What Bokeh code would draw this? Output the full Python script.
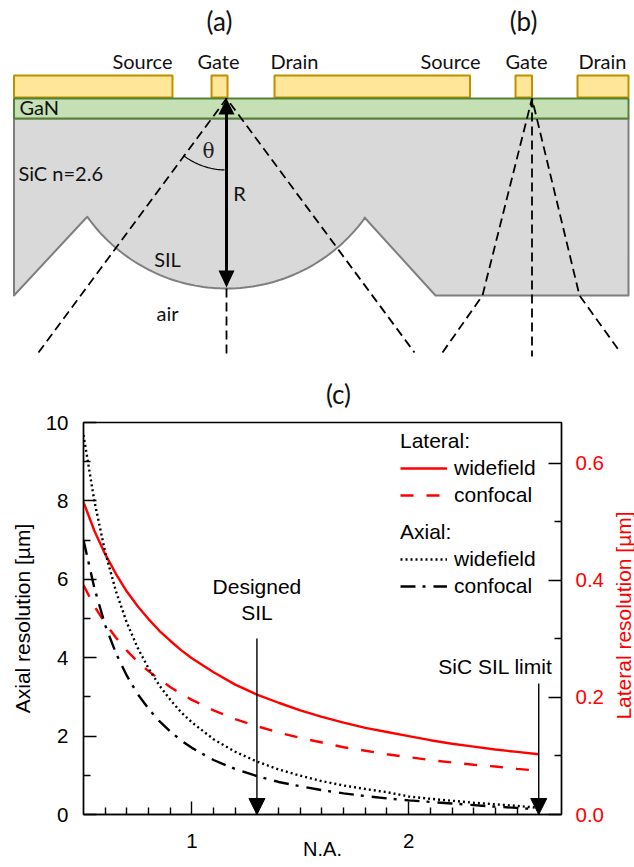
import numpy as np
from bokeh.plotting import figure
from bokeh.layouts import column, row
from bokeh.models import (Range1d, LinearAxis, FixedTicker, PrintfTickFormatter, Legend, LegendItem,
                          Arrow, NormalHead, Label, ColumnDataSource)
from bokeh.core.properties import value
from bokeh.embed import file_html
from bokeh.resources import INLINE

# ---------- chart data ----------
na = [0.5, 0.55, 0.6, 0.65, 0.7, 0.75, 0.8, 0.85, 0.9, 0.95, 1.0, 1.1, 1.2, 1.3, 1.4, 1.5, 1.6, 1.7,
      1.8, 1.9, 2.0, 2.1, 2.2, 2.3, 2.4, 2.5, 2.6]
lateral_widefield = [.534, .485, .445, .411, .381, .356, .334, .314, .297, .281, .267, .243, .222, .205,
                     .191, .178, .167, .157, .148, .141, .134, .127, .121, .116, .111, .107, .103]
lateral_confocal = [.392, .356, .327, .302, .280, .261, .245, .231, .218, .206, .196, .178, .163, .151,
                    .140, .131, .123, .115, .109, .103, .098, .093, .089, .085, .082, .078, .075]
axial_widefield = [9.68, 8.0, 6.69, 5.69, 4.89, 4.25, 3.73, 3.29, 2.93, 2.61, 2.35, 1.92, 1.60, 1.35,
                   1.15, .99, .85, .74, .65, .57, .46, .40, .35, .30, .26, .22, .17]
axial_confocal = [7.0, 5.78, 4.83, 4.11, 3.54, 3.07, 2.70, 2.38, 2.12, 1.89, 1.70, 1.39, 1.16, .98,
                  .83, .72, .62, .54, .47, .41, .36, .32, .28, .24, .20, .17, .13]
x_major = [1, 2]
x_minor = [.6, .7, .8, .9, 1.1, 1.2, 1.3, 1.4, 1.5, 1.6, 1.7, 1.8, 1.9, 2.1, 2.2, 2.3, 2.4, 2.5, 2.6]
y_major = [0, 2, 4, 6, 8, 10]
y_minor = [1, 3, 5, 7, 9]
r_major = [0.0, 0.2, 0.4, 0.6]
r_minor = [0.1, 0.3, 0.5]
marker_na = [1.3, 2.6]
marker_top = [4.49, 3.34]

# ---------- schematic geometry (page pixels) ----------
gold_left = [13.5, 211, 274, 515, 577]
gold_right = [172, 227, 469.5, 531.5, 628]
sic_left_x = [13.5, 13.5, 86]
sic_left_y = [118, 295, 217]
sic_right_x = [364, 435, 628, 628]
sic_right_y = [217, 295, 295, 118]
lens_cx, lens_cy, lens_r = 226, 117, 171
dash_lines = [([38, 226, 414], [352, 98, 352]),
              ([226, 226], [288, 356]),
              ([442, 482, 531.5, 579, 620], [352, 295, 98, 295, 352]),
              ([531.5, 531.5], [98, 356])]
labels_txt = ["Source", "Gate", "Drain", "Source", "Gate", "Drain", "SIL", "air", "R"]
labels_x = [142, 218, 294, 450, 526, 602, 167, 167, 239]
labels_y = [60.5, 60.5, 60.5, 60.5, 60.5, 60.5, 258.5, 312.5, 192.5]

W = 634
TOP_H = 410
CHART_H = 457
SIDE_W = 28
FONT = "Lato"
SANS = "Liberation Sans"

# ---------- schematic ----------
s = figure(width=W, height=TOP_H, x_range=Range1d(0, 634), y_range=Range1d(TOP_H, 0),
           output_backend="svg", toolbar_location=None, min_border=0, outline_line_color=None)
s.axis.visible = False
s.grid.visible = False
s.background_fill_color = None
s.border_fill_color = None

t0 = np.arctan2(sic_left_y[2] - lens_cy, sic_left_x[2] - lens_cx)
t1 = np.arctan2(sic_right_y[0] - lens_cy, sic_right_x[0] - lens_cx)
tt = np.linspace(t0, t1, 80)
arc_x = lens_cx + lens_r * np.cos(tt)
arc_y = lens_cy + lens_r * np.sin(tt)
s.patch(sic_left_x + list(arc_x) + sic_right_x, sic_left_y + list(arc_y) + sic_right_y,
        fill_color="#D9D9D9", line_color="#7F7F7F", line_width=2, line_join="round")
s.quad(left=gold_left, right=gold_right, top=[75] * 5, bottom=[97] * 5,
       fill_color="#FFE699", line_color="#BF9000", line_width=2)
s.quad(left=[13.5], right=[628], top=[98], bottom=[118],
       fill_color="#C5E0B4", line_color="#548235", line_width=2)
for xs, ys in dash_lines:
    s.line(xs, ys, line_color="black", line_width=1.8, line_dash="9 5")
# R arrow
s.line([226, 226], [108, 276], line_color="black", line_width=3)
s.patch([226, 218, 234], [98, 114, 114], fill_color="black", line_color=None)
s.patch([226, 218, 234], [287, 270, 270], fill_color="black", line_color=None)
s.patch([531.5, 529.5, 533.5], [98, 106, 106], fill_color="black", line_color=None)
# theta arc
ang = np.linspace(np.arctan2(57, -43), np.arctan2(72, -2), 30)
s.line(226 + 71.5 * np.cos(ang), 98 + 71.5 * np.sin(ang), line_color="black", line_width=1.2)

txt = ColumnDataSource(dict(x=labels_x, y=labels_y, t=labels_txt))
s.text("x", "y", text="t", source=txt, text_font=value(FONT), text_font_size="20px",
       text_align="center", text_baseline="middle", text_color="#111111")
s.text([19, 18], [106.5, 172.5], text=["GaN", "SiC n=2.6"], text_font=value(FONT), text_font_size="20px",
       text_align="left", text_baseline="middle", text_color="#111111")
s.text([219, 523, 338], [20, 20, 393], text=["(a)", "(b)", "(c)"], text_font=value(FONT),
       text_font_size="26px", text_align="center", text_baseline="middle", text_color="#111111")
s.text([208], [150], text=["θ"], text_font=value("DejaVu Serif"), text_font_size="20px",
       text_align="center", text_baseline="middle", text_color="#222222")

# ---------- chart ----------
p = figure(width=W - SIDE_W, height=CHART_H, x_range=Range1d(0.5, 2.705), y_range=Range1d(0, 10),
           output_backend="svg", toolbar_location=None, min_border_left=83, min_border_right=44,
           min_border_top=12, min_border_bottom=53, outline_line_color="black", outline_line_width=1.4,
           x_axis_label="N.A.", y_axis_label="Axial resolution [µm]")
p.grid.visible = False
p.extra_y_ranges = {"lat": Range1d(0, 0.67)}
r_axis = LinearAxis(y_range_name="lat")
p.add_layout(r_axis, "right")


def style(ax, color="black"):
    ax.axis_line_color = "black"
    ax.axis_line_width = 1.4
    ax.major_tick_line_color = "black"
    ax.minor_tick_line_color = "black"
    ax.major_tick_line_width = 1.4
    ax.minor_tick_line_width = 1.4
    ax.major_tick_in = 13
    ax.major_tick_out = 0
    ax.minor_tick_in = 7
    ax.minor_tick_out = 0
    ax.major_label_text_font = SANS
    ax.major_label_text_font_size = "20.5px"
    ax.major_label_text_color = color
    ax.axis_label_text_font = SANS
    ax.axis_label_text_font_size = "21px"
    ax.axis_label_text_font_style = "normal"
    ax.axis_label_text_color = color


xa, ya = p.below[0], p.left[0]
style(xa); style(ya); style(r_axis, "#FF0000")
xa.ticker = FixedTicker(ticks=x_major, minor_ticks=x_minor)
ya.ticker = FixedTicker(ticks=y_major, minor_ticks=y_minor)
r_axis.ticker = FixedTicker(ticks=r_major, minor_ticks=r_minor)
r_axis.formatter = PrintfTickFormatter(format="%.1f")
xa.major_label_standoff = 19
xa.axis_label_standoff = -13
xa.axis_label_text_font_size = "20px"
ya.major_label_standoff = 15
ya.axis_label_standoff = 9
r_axis.major_label_standoff = 14

rw = p.line(na, lateral_widefield, y_range_name="lat", line_color="#FF0000", line_width=2.4)
rc = p.line(na, lateral_confocal, y_range_name="lat", line_color="#FF0000", line_width=2.4, line_dash="13 13")
aw = p.line(na, axial_widefield, line_color="black", line_width=2.4, line_dash="2 3")
ac = p.line(na, axial_confocal, line_color="black", line_width=2.4, line_dash="15 7 3 8")


def legend(title, items, y):
    lg = Legend(title=title, items=items, location=(317, y), orientation="vertical", padding=0, margin=0,
                spacing=3, glyph_width=47, glyph_height=20, label_height=20, label_width=80, label_standoff=7,
                label_text_font=SANS, label_text_font_size="21px", title_text_font=SANS,
                title_text_font_size="21px", title_text_font_style="normal", title_standoff=3,
                label_text_color="black", title_text_color="black",
                background_fill_alpha=0, border_line_color=None)
    p.add_layout(lg, "center")


legend("Lateral:", [LegendItem(label="widefield", renderers=[rw]), LegendItem(label="confocal", renderers=[rc])], 307)
legend("Axial:", [LegendItem(label="widefield", renderers=[aw]), LegendItem(label="confocal", renderers=[ac])], 216)

for xv, top in zip(marker_na, marker_top):
    p.add_layout(Arrow(end=NormalHead(size=16, fill_color="black", line_color="black", line_width=1),
                       x_start=xv, y_start=top, x_end=xv, y_end=0, line_color="black", line_width=1.4))
for t, xv, yv in [("Designed", 1.3, 5.82), ("SIL", 1.3, 5.16), ("SiC SIL limit", 2.40, 3.78)]:
    p.add_layout(Label(x=xv, y=yv, text=t, text_font=SANS, text_font_size="21px", text_align="center",
                       text_baseline="middle", text_color="black"))

# narrow strip beside the chart that carries the rotated red axis title
side = figure(width=SIDE_W, height=CHART_H, x_range=Range1d(0, SIDE_W), y_range=Range1d(0, CHART_H),
              output_backend="svg", toolbar_location=None, min_border=0, outline_line_color=None)
side.axis.visible = False
side.grid.visible = False
side.background_fill_color = None
side.border_fill_color = None
side.text([17], [252], text=["Lateral resolution [µm]"], angle=np.pi / 2, text_font=value(SANS),
          text_font_size="21px", text_align="center", text_baseline="middle", text_color="#FF0000")

page = column(column(s), row(column(p), column(side), spacing=0), spacing=0)
open("out.html", "w").write(file_html(page, INLINE))
